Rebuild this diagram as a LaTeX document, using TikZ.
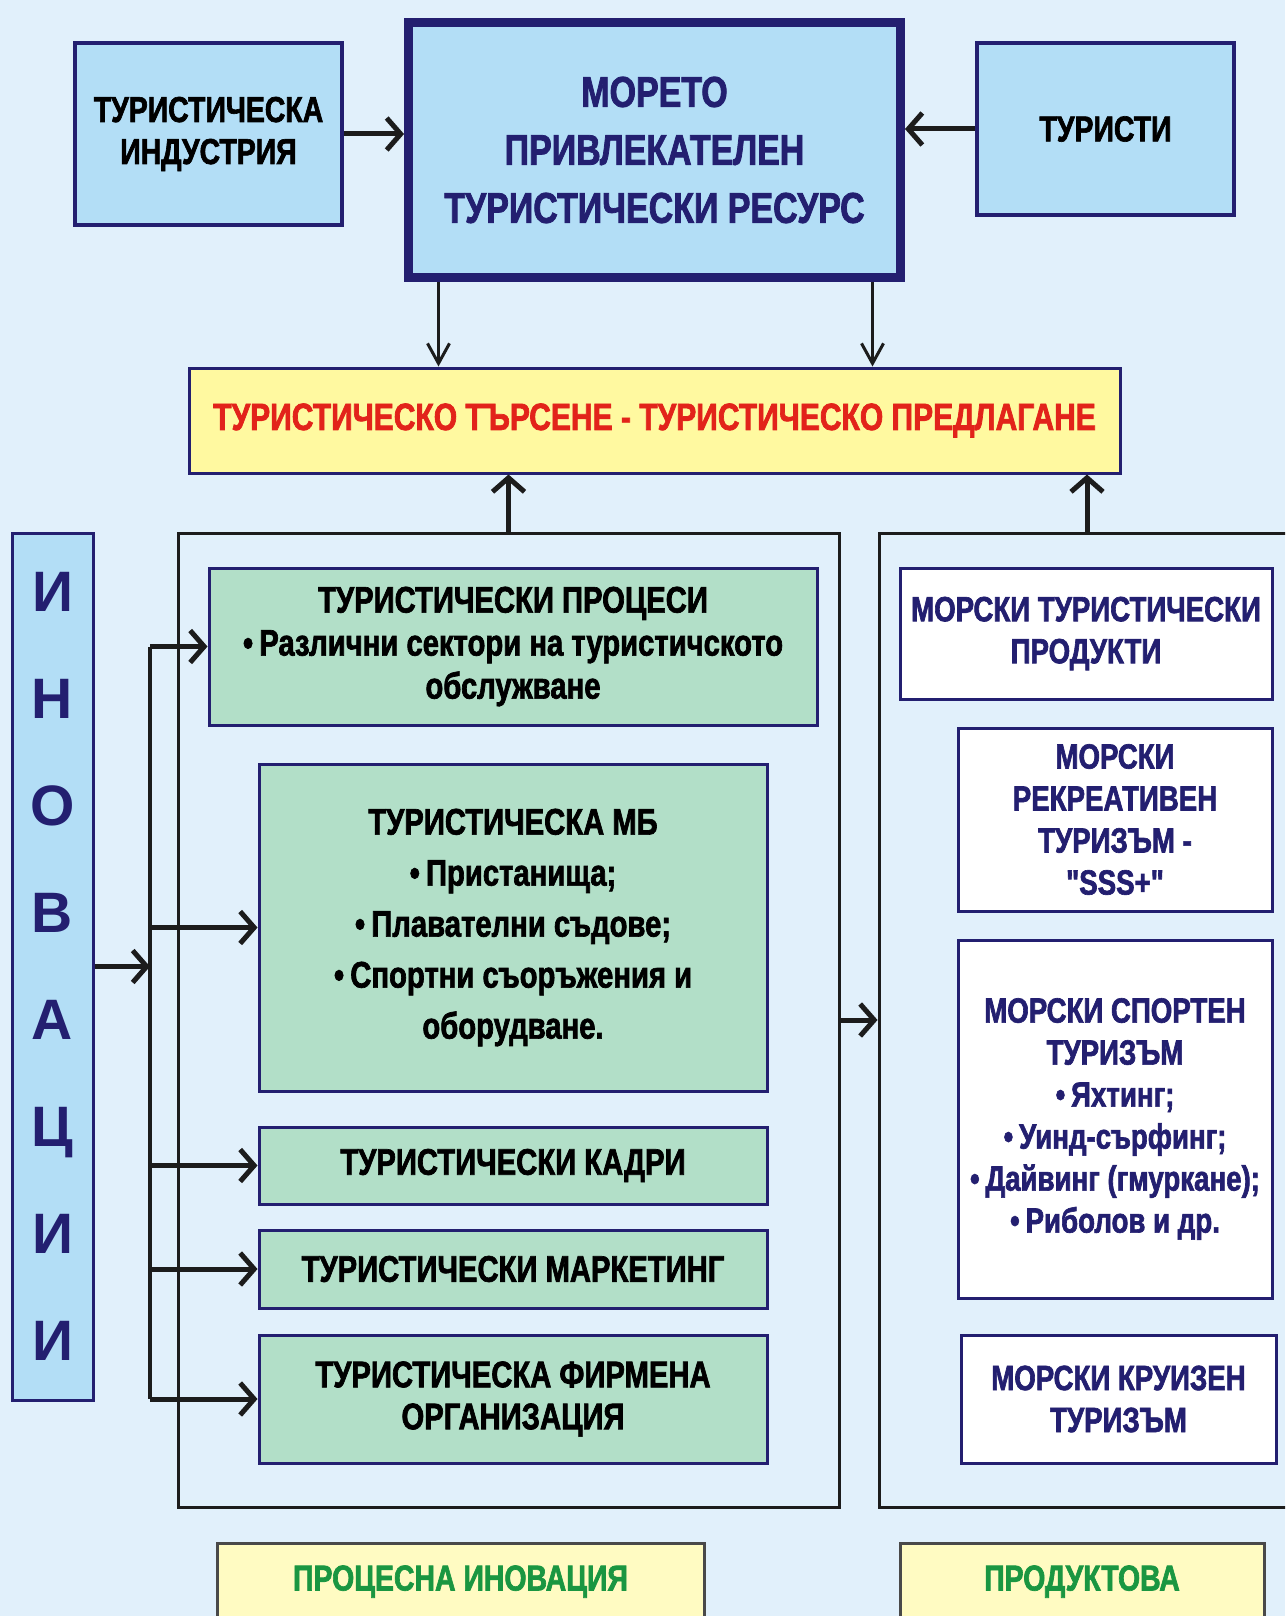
\documentclass[tikz,border=0pt]{standalone}
\usepackage{fontspec}
\setmainfont{Liberation Sans}
\newfontfamily\narrowfont{Liberation Sans}[FakeStretch=0.79,FakeBold=1.8]
\usetikzlibrary{arrows.meta}

\definecolor{bgblue}{HTML}{E1F0FB}
\definecolor{boxblue}{HTML}{B3DEF6}
\definecolor{navy}{HTML}{231F70}
\definecolor{boxgreen}{HTML}{B2DFC8}
\definecolor{boxyellow}{HTML}{FFF9A0}
\definecolor{paleyellow}{HTML}{FFFBC2}
\definecolor{redtext}{HTML}{E2231A}
\definecolor{greentext}{HTML}{1A9641}
\definecolor{frameline}{HTML}{1C1C1C}

\tikzset{
  figtext/.style={font=\narrowfont\bfseries\fontsize{36}{42}\selectfont, align=center},
  bluebox/.style={figtext, draw=navy, fill=boxblue, line width=4pt, inner sep=0pt},
  greenbox/.style={figtext, draw=navy, fill=boxgreen, line width=3pt, inner sep=0pt, minimum width=508pt, text=black,
                   font=\narrowfont\bfseries\fontsize{37}{42}\selectfont},
  whitebox/.style={figtext, draw=navy, fill=white, line width=3pt, inner sep=0pt, text=navy,
                   font=\narrowfont\bfseries\fontsize{35}{42}\selectfont},
  framebox/.style={draw=frameline, line width=3pt, inner sep=0pt},
  footbox/.style={figtext, draw=frameline!80, fill=paleyellow, line width=3pt, inner sep=0pt, text=greentext, anchor=north, text height=47pt, text depth=50pt},
  arr/.style={draw=frameline, line width=5pt, -{Straight Barb[length=14pt,width=32pt]}},
  thinarr/.style={draw=frameline, line width=3pt, -{Straight Barb[length=20pt,width=22pt]}},
  busline/.style={draw=frameline, line width=3.5pt},
}

\begin{document}
\begin{tikzpicture}[x=1pt, y=-1pt]
\useasboundingbox (0,0) rectangle (1285,1616);
\clip (0,0) rectangle (1285,1616);
\fill[bgblue] (0,0) rectangle (1285,1616);

% top row
\node[bluebox, minimum width=267pt, minimum height=182pt] (ind) at (208.5,134) {ТУРИСТИЧЕСКА\\ИНДУСТРИЯ};
\node[bluebox, line width=9pt, minimum width=492pt, minimum height=255pt, text=navy,
      font=\narrowfont\bfseries\fontsize{43}{58}\selectfont] (res) at (654.5,150) {МОРЕТО\\ПРИВЛЕКАТЕЛЕН\\ТУРИСТИЧЕСКИ РЕСУРС};
\node[bluebox, minimum width=257pt, minimum height=172pt] (tur) at (1105.5,129) {ТУРИСТИ};
\node[figtext, draw=navy, fill=boxyellow, line width=3pt, inner sep=0pt, minimum width=931pt, minimum height=105pt,
      text=redtext, font=\narrowfont\bfseries\fontsize{38}{42}\selectfont] (dem) at (654.5,420.5) {ТУРИСТИЧЕСКО ТЪРСЕНЕ - ТУРИСТИЧЕСКО ПРЕДЛАГАНЕ};

% innovations
\node[draw=navy, fill=boxblue, line width=3pt, inner sep=0pt, minimum width=81pt, minimum height=867pt, text=navy,
      align=center, font=\bfseries\fontsize{57}{107}\selectfont] (inov) at (52.5,966.5) {И\\Н\\О\\В\\А\\Ц\\И\\И};

% frames
\node[framebox, minimum width=661pt, minimum height=974pt] (lframe) at (508.5,1020) {};
\node[framebox, minimum width=416pt, minimum height=974pt] (rframe) at (1087,1020) {};

% process boxes
\node[greenbox, minimum width=608pt, minimum height=157pt, font=\narrowfont\bfseries\fontsize{37}{43}\selectfont] (p1) at (513,646.5)
  {ТУРИСТИЧЕСКИ ПРОЦЕСИ\\•\,Различни сектори на туристичското\\обслужване};
\node[greenbox, minimum height=327pt, font=\narrowfont\bfseries\fontsize{37}{51}\selectfont] (p2) at (513,927.5)
  {ТУРИСТИЧЕСКА МБ\\•\,Пристанища;\\•\,Плавателни съдове;\\•\,Спортни съоръжения и\\оборудване.};
\node[greenbox, minimum height=77pt] (p3) at (513,1165.5) {ТУРИСТИЧЕСКИ КАДРИ};
\node[greenbox, minimum height=78pt] (p4) at (513,1269) {ТУРИСТИЧЕСКИ МАРКЕТИНГ};
\node[greenbox, minimum height=128pt] (p5) at (513,1399) {ТУРИСТИЧЕСКА ФИРМЕНА\\ОРГАНИЗАЦИЯ};

% product boxes
\node[whitebox, minimum width=372pt, minimum height=131pt] (r1) at (1086,633.5) {МОРСКИ ТУРИСТИЧЕСКИ\\ПРОДУКТИ};
\node[whitebox, minimum width=314pt, minimum height=183pt] (r2) at (1115,819.5) {МОРСКИ\\РЕКРЕАТИВЕН\\ТУРИЗЪМ -\\"SSS+"};
\node[whitebox, minimum width=314pt, minimum height=358pt] (r3) at (1115,1119)
  {МОРСКИ СПОРТЕН\\ТУРИЗЪМ\\•\,Яхтинг;\\•\,Уинд-сърфинг;\\•\,Дайвинг (гмуркане);\\•\,Риболов и др.};
\node[whitebox, minimum width=315pt, minimum height=128pt] (r4) at (1118.5,1399) {МОРСКИ КРУИЗЕН\\ТУРИЗЪМ};

% footer
\node[footbox, minimum width=487pt] (b1) at (460.5,1542) {ПРОЦЕСНА ИНОВАЦИЯ};
\node[footbox, minimum width=364pt] (b2) at (1082,1542) {ПРОДУКТОВА};

% connectors
\draw[arr] (ind.east) -- (ind.east -| res.west);
\draw[arr] (tur.west) -- (tur.west -| res.east);
\draw[thinarr] ([xshift=-216pt]res.south) -- ([xshift=-216pt]res.south |- dem.north);
\draw[thinarr] ([xshift=218pt]res.south) -- ([xshift=218pt]res.south |- dem.north);
\draw[arr] (lframe.north) -- (lframe.north |- dem.south);
\draw[arr] (rframe.north) -- (rframe.north |- dem.south);
\draw[arr] (lframe.east) -- (rframe.west);

\coordinate (bus) at (150,966);
\draw[busline] (bus |- p1.west) -- (bus |- p5.west);
\draw[arr] (inov.east) -- (bus |- inov.east);
\foreach \i in {1,...,5}
  \draw[arr] (bus |- p\i.west) -- (p\i.west);
\end{tikzpicture}
\end{document}
